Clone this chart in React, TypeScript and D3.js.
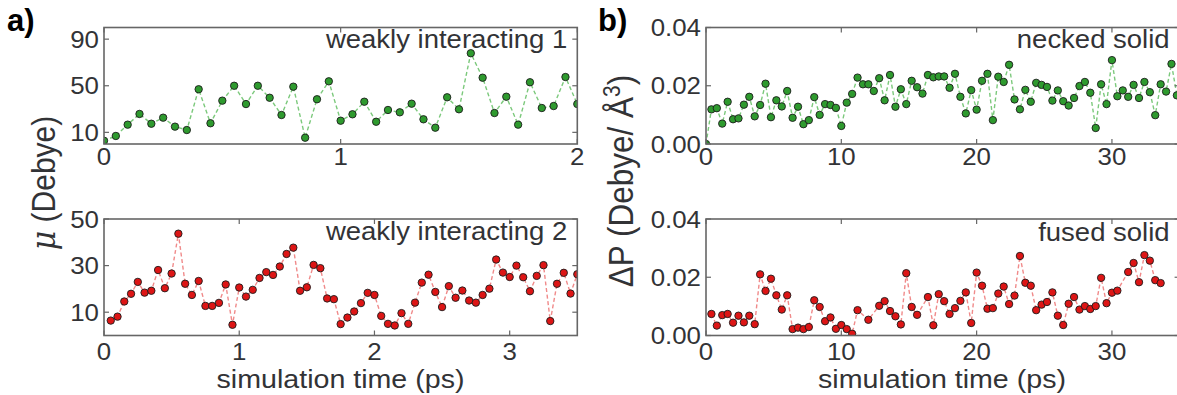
import React from 'react';
import * as d3 from 'd3';

// ---------- data ----------
// panel a) top: weakly interacting 1 (mu, Debye), sampled every 0.05 ps from t = 0
const weak1Dt = 0.05;
const weak1 = [2.8, 6.9, 16.6, 25.8, 17.4, 22.6, 14.9, 12, 47, 17.8, 37.2, 50, 34.3, 50, 39.7, 24.9, 49.2, 5.4, 38.4, 53.8,
  20, 25.5, 36.3, 19.1, 29.2, 27.2, 34.6, 21.2, 14, 40.1, 29.8, 77.9, 56.9, 26.6, 40.6, 16.6, 53, 30.9, 32.6, 57.5, 34.3];

// panel a) bottom: weakly interacting 2, sampled every 0.05 ps from t = 0.05
const weak2Dt = 0.05;
const weak2 = [6.4, 8.1, 14.6, 17.9, 23, 18.4, 19.2, 28.1, 20.3, 26.6,
  43.7, 22.2, 17.4, 23.4, 12.7, 12.7, 14, 21.9, 4.6, 20.6,
  16.7, 19.6, 24.7, 27.2, 26, 29.6, 35, 37.7, 19.2, 20.7,
  30.3, 28.9, 15.9, 15.6, 4.9, 7.7, 10.3, 13.9, 18.3, 17.4,
  8.4, 5, 4.3, 9.6, 5, 14.1, 22.7, 26.1, 18.7, 12.2,
  21.2, 16.2, 19.3, 15, 14.1, 17.4, 20.1, 32.6, 27, 25.1,
  30, 25, 19, 25.6, 30.2, 6.2, 22.2, 26.9, 18, 26.3];

// panel b) top: necked solid (dP), sampled every 0.4 ps from t = 0
const neckedDt = 0.4;
const necked = [0.0, 0.0119, 0.0123, 0.0070, 0.0145, 0.0085, 0.0088, 0.0135, 0.0162, 0.0095,
  0.0134, 0.0207, 0.0092, 0.0150, 0.0129, 0.0182, 0.0090, 0.0128, 0.0068, 0.0082,
  0.0161, 0.0100, 0.0137, 0.0134, 0.0124, 0.0062, 0.0142, 0.0172, 0.0228, 0.0205,
  0.0205, 0.0182, 0.0226, 0.0150, 0.0237, 0.0128, 0.0188, 0.0137, 0.0217, 0.0195,
  0.0173, 0.0237, 0.0229, 0.0232, 0.0232, 0.0193, 0.0241, 0.0162, 0.0105, 0.0185,
  0.0118, 0.0217, 0.0241, 0.0082, 0.0231, 0.0213, 0.0272, 0.0153, 0.0119, 0.0186,
  0.0145, 0.0210, 0.0203, 0.0196, 0.0149, 0.0184, 0.0147, 0.0132, 0.0158, 0.0199,
  0.0213, 0.0176, 0.0055, 0.0205, 0.0137, 0.0288, 0.0164, 0.0184, 0.0162, 0.0203,
  0.0158, 0.0213, 0.0178, 0.0099, 0.0205, 0.0180, 0.0275, 0.0167];

// panel b) bottom: fused solid, sample indices (x 0.4 ps) and values
const fusedDt = 0.4;
const fusedSteps = [1, 2, 3, 4, 5, 6, 7, 8, 9, 10, 11, 12, 13, 14, 15, 16, 17, 18, 19, 20,
  21, 22, 23, 24, 25, 26, 27, 28, 30, 32, 33, 34, 35, 36, 37, 38, 39, 41, 42, 43,
  44, 45, 46, 47, 48, 49, 50, 51, 52, 53, 54, 55, 56, 57, 58, 59, 60, 61, 62, 63,
  64, 65, 66, 67, 68, 69, 70, 71, 72, 73, 74, 75, 76, 78, 79, 80, 81, 82, 83, 84];
const fused = [0.0074, 0.0034, 0.0070, 0.0074, 0.0044, 0.0068, 0.0045, 0.0068, 0.0039, 0.0210,
  0.0153, 0.0195, 0.0138, 0.0089, 0.0138, 0.0022, 0.0027, 0.0022, 0.0029, 0.0121,
  0.0098, 0.0049, 0.0062, 0.0023, 0.0036, 0.0022, 0.0006, 0.0087, 0.0054, 0.0102,
  0.0118, 0.0084, 0.0066, 0.0038, 0.0214, 0.0098, 0.0071, 0.0132, 0.0035, 0.0142,
  0.0118, 0.0074, 0.0094, 0.0119, 0.0148, 0.0043, 0.0216, 0.0171, 0.0092, 0.0094,
  0.0144, 0.0168, 0.0108, 0.0137, 0.0273, 0.0181, 0.0171, 0.0087, 0.0106, 0.0115,
  0.0148, 0.0068, 0.0036, 0.0109, 0.0132, 0.0089, 0.0101, 0.0091, 0.0101, 0.0198,
  0.0111, 0.0147, 0.0154, 0.0218, 0.0249, 0.0183, 0.0276, 0.0257, 0.0190, 0.0180];

const weak1XTicks = [0, 1, 2];
const weak1YTicks = [10, 50, 90];
const weak2XTicks = [0, 1, 2, 3];
const weak2YTicks = [10, 30, 50];
const solidXTicks = [0, 10, 20, 30];
const solidYTicks = [0, 0.02, 0.04];

const FONT = "'Liberation Sans', Arial, sans-serif";
const TEXT = '#323336';
const FRAME = '#666666';
const SX = 1.1;

type Pt = [number, number];

interface PanelProps {
  id: string;
  x0: number; x1: number; y0: number; y1: number;
  xDomain: [number, number]; yDomain: [number, number];
  xTicks: number[]; yTicks: number[];
  yFmt: (v: number) => string;
  xLabelBase: number;
  title: string; titleBase: number;
  pts: Pt[];
  fill: string; line: string;
}

function Panel(p: PanelProps) {
  const x = d3.scaleLinear().domain(p.xDomain).range([p.x0, p.x1]);
  const y = d3.scaleLinear().domain(p.yDomain).range([p.y1, p.y0]);
  const path = d3.line<Pt>().x(d => x(d[0])).y(d => y(d[1]))(p.pts) || '';
  const tl = 5;
  return (
    <g>
      <defs>
        <clipPath id={p.id}>
          <rect x={p.x0} y={p.y0} width={p.x1 - p.x0} height={p.y1 - p.y0} />
        </clipPath>
      </defs>
      <g clipPath={`url(#${p.id})`}>
        <path d={path} fill="none" stroke={p.line} strokeWidth={1.4} strokeDasharray="4,2.6" />
        {p.pts.map((d, i) => (
          <circle key={i} cx={x(d[0])} cy={y(d[1])} r={3.7} fill={p.fill} stroke="#1c1c1c" strokeWidth={0.9} />
        ))}
      </g>
      <rect x={p.x0} y={p.y0} width={p.x1 - p.x0} height={p.y1 - p.y0} fill="none" stroke={FRAME} strokeWidth={1.6} />
      {p.xTicks.map(t => (
        <g key={'xt' + t}>
          <line x1={x(t)} x2={x(t)} y1={p.y1} y2={p.y1 - tl} stroke={FRAME} strokeWidth={1.2} />
          <line x1={x(t)} x2={x(t)} y1={p.y0} y2={p.y0 + tl} stroke={FRAME} strokeWidth={1.2} />
          <text transform={`translate(${x(t)},${p.xLabelBase}) scale(${SX},1)`} textAnchor="middle"
            fontFamily={FONT} fontSize={23.5} fill={TEXT}>{t}</text>
        </g>
      ))}
      {p.yTicks.map(t => (
        <g key={'yt' + t}>
          <line x1={p.x0} x2={p.x0 + tl} y1={y(t)} y2={y(t)} stroke={FRAME} strokeWidth={1.2} />
          <line x1={p.x1} x2={p.x1 - tl} y1={y(t)} y2={y(t)} stroke={FRAME} strokeWidth={1.2} />
          <text transform={`translate(${p.x0 - 5},${y(t) + 8.5}) scale(${SX},1)`} textAnchor="end"
            fontFamily={FONT} fontSize={23.5} fill={TEXT}>{p.yFmt(t)}</text>
        </g>
      ))}
      <text transform={`translate(${p.x1 - 10},${p.titleBase}) scale(${SX},1)`} textAnchor="end"
        fontFamily={FONT} fontSize={25} fill={TEXT}>{p.title}</text>
    </g>
  );
}

export default function App() {
  const GREEN = '#2e9a2e';
  const GREEN_LINE = '#7cc97c';
  const RED = '#dd1515';
  const RED_LINE = '#f08a8a';

  const w1: Pt[] = weak1.map((v, i) => [i * weak1Dt, v]);
  const w2: Pt[] = weak2.map((v, i) => [(i + 1) * weak2Dt, v]);
  const nk: Pt[] = necked.map((v, i) => [i * neckedDt, v]);
  const fs: Pt[] = fused.map((v, i) => [fusedSteps[i] * fusedDt, v]);

  const intFmt = (v: number) => String(v);
  const decFmt = d3.format('.2f');

  const L = { x0: 104, x1: 577.3 };
  const R = { x0: 706, x1: 1179.6 };
  const T = { y0: 27.5, y1: 144 };
  const B = { y0: 219, y1: 335.5 };

  return (
    <svg width={1177} height={395} style={{ position: 'absolute', left: 0, top: 0, background: '#fff' }}>
      <rect x={0} y={0} width={1177} height={395} fill="#fff" />
      <Panel id="c1" {...L} {...T} xDomain={[0, 2]} yDomain={[0, 100]} xTicks={weak1XTicks} yTicks={weak1YTicks}
        yFmt={intFmt} xLabelBase={165} title="weakly interacting 1" titleBase={47.5} pts={w1} fill={GREEN} line={GREEN_LINE} />
      <Panel id="c2" {...L} {...B} xDomain={[0, 3.5]} yDomain={[0, 50]} xTicks={weak2XTicks} yTicks={weak2YTicks}
        yFmt={intFmt} xLabelBase={360} title="weakly interacting 2" titleBase={240} pts={w2} fill={RED} line={RED_LINE} />
      <Panel id="c3" {...R} {...T} xDomain={[0, 35]} yDomain={[0, 0.04]} xTicks={solidXTicks} yTicks={solidYTicks}
        yFmt={decFmt} xLabelBase={165} title="necked solid" titleBase={48} pts={nk} fill={GREEN} line={GREEN_LINE} />
      <Panel id="c4" {...R} {...B} xDomain={[0, 35]} yDomain={[0, 0.04]} xTicks={solidXTicks} yTicks={solidYTicks}
        yFmt={decFmt} xLabelBase={360} title="fused solid" titleBase={240.5} pts={fs} fill={RED} line={RED_LINE} />

      {/* panel letters */}
      <text x={7} y={31} fontFamily={FONT} fontWeight="bold" fontSize={31} fill="#000">a)</text>
      <text x={598} y={31} fontFamily={FONT} fontWeight="bold" fontSize={31} fill="#000">b)</text>

      {/* x labels */}
      <text transform={`translate(340.5,388) scale(${SX},1)`} textAnchor="middle" fontFamily={FONT} fontSize={26} fill={TEXT}>simulation time (ps)</text>
      <text transform={`translate(942,388) scale(${SX},1)`} textAnchor="middle" fontFamily={FONT} fontSize={26} fill={TEXT}>simulation time (ps)</text>

      {/* y labels */}
      <text transform={`translate(55,183) scale(${SX},1) rotate(-90)`} textAnchor="middle" fontFamily={FONT} fontSize={30} fill={TEXT}>
        <tspan fontStyle="italic" fontFamily="'DejaVu Serif', serif">μ</tspan> (Debye)
      </text>
      <text transform={`translate(633,181) scale(${SX},1) rotate(-90)`} textAnchor="middle" fontFamily={FONT} fontSize={31.5} fill={TEXT}>
        ΔP (Debye/ Å<tspan dy={-12} fontSize={21}>3</tspan><tspan dy={12}>)</tspan>
      </text>
    </svg>
  );
}
